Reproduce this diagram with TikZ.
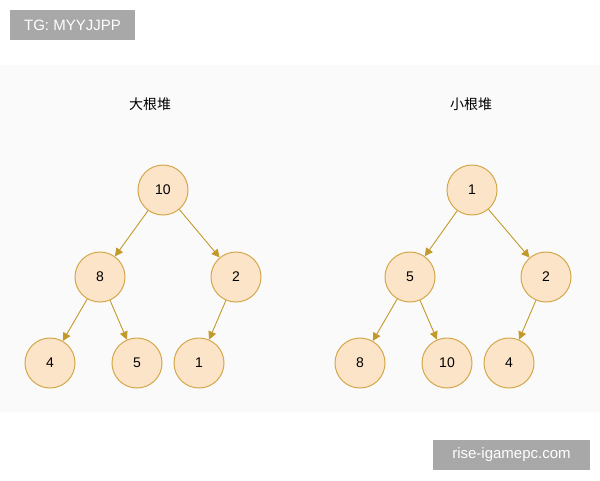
\documentclass[tikz,border=0pt]{standalone}
\usepackage{fontspec}
\setmainfont{Liberation Sans}
\newfontfamily\cjk{Noto Sans CJK SC}
\usetikzlibrary{arrows.meta}
\definecolor{nfill}{HTML}{FCE4C8}
\definecolor{nedge}{HTML}{D4A74A}
\definecolor{aedge}{HTML}{C29A2A}
\definecolor{wm}{HTML}{A8A8A8}
\begin{document}
\begin{tikzpicture}[x=1pt,y=-1pt,
  hn/.style={circle,draw=nedge,fill=nfill,line width=1pt,minimum size=50pt,inner sep=0pt,font=\fontsize{14}{16}\selectfont},
  ar/.style={draw=aedge,line width=0.9pt,-{Triangle[length=8pt,width=8pt]}},
  ttl/.style={font=\cjk\fontsize{14}{16}\selectfont},
  wmk/.style={fill=wm,text=white,inner sep=0pt,font=\fontsize{15}{17}\selectfont}]
\useasboundingbox (0,0) rectangle (600,480);
\fill[white] (0,0) rectangle (600,480);
\fill[black!2] (0,65) rectangle (600,412);
\node[wmk,minimum width=125pt,minimum height=30pt] (w1) at (72.5,25) {TG: MYYJJPP};
\node[wmk,minimum width=157pt,minimum height=30pt] (w2) at (511.5,455) {rise-igamepc.com};
\node[ttl] (t1) at (150,104) {大根堆};
\node[ttl] (t2) at (471,104) {小根堆};
\node[hn] (a) at (163,190) {10};
\node[hn] (b) at (100,277) {8};
\node[hn] (c) at (236,277) {2};
\node[hn] (d) at (50,363) {4};
\node[hn] (e) at (137,363) {5};
\node[hn] (f) at (199,363) {1};
\node[hn] (p) at (472,190) {1};
\node[hn] (q) at (410,277) {5};
\node[hn] (r) at (546,277) {2};
\node[hn] (s) at (360,363) {8};
\node[hn] (u) at (447,363) {10};
\node[hn] (v) at (509,363) {4};
\foreach \x/\y in {a/b,a/c,b/d,b/e,c/f,p/q,p/r,q/s,q/u,r/v}
  \draw[ar] (\x) -- (\y);
\end{tikzpicture}
\end{document}
